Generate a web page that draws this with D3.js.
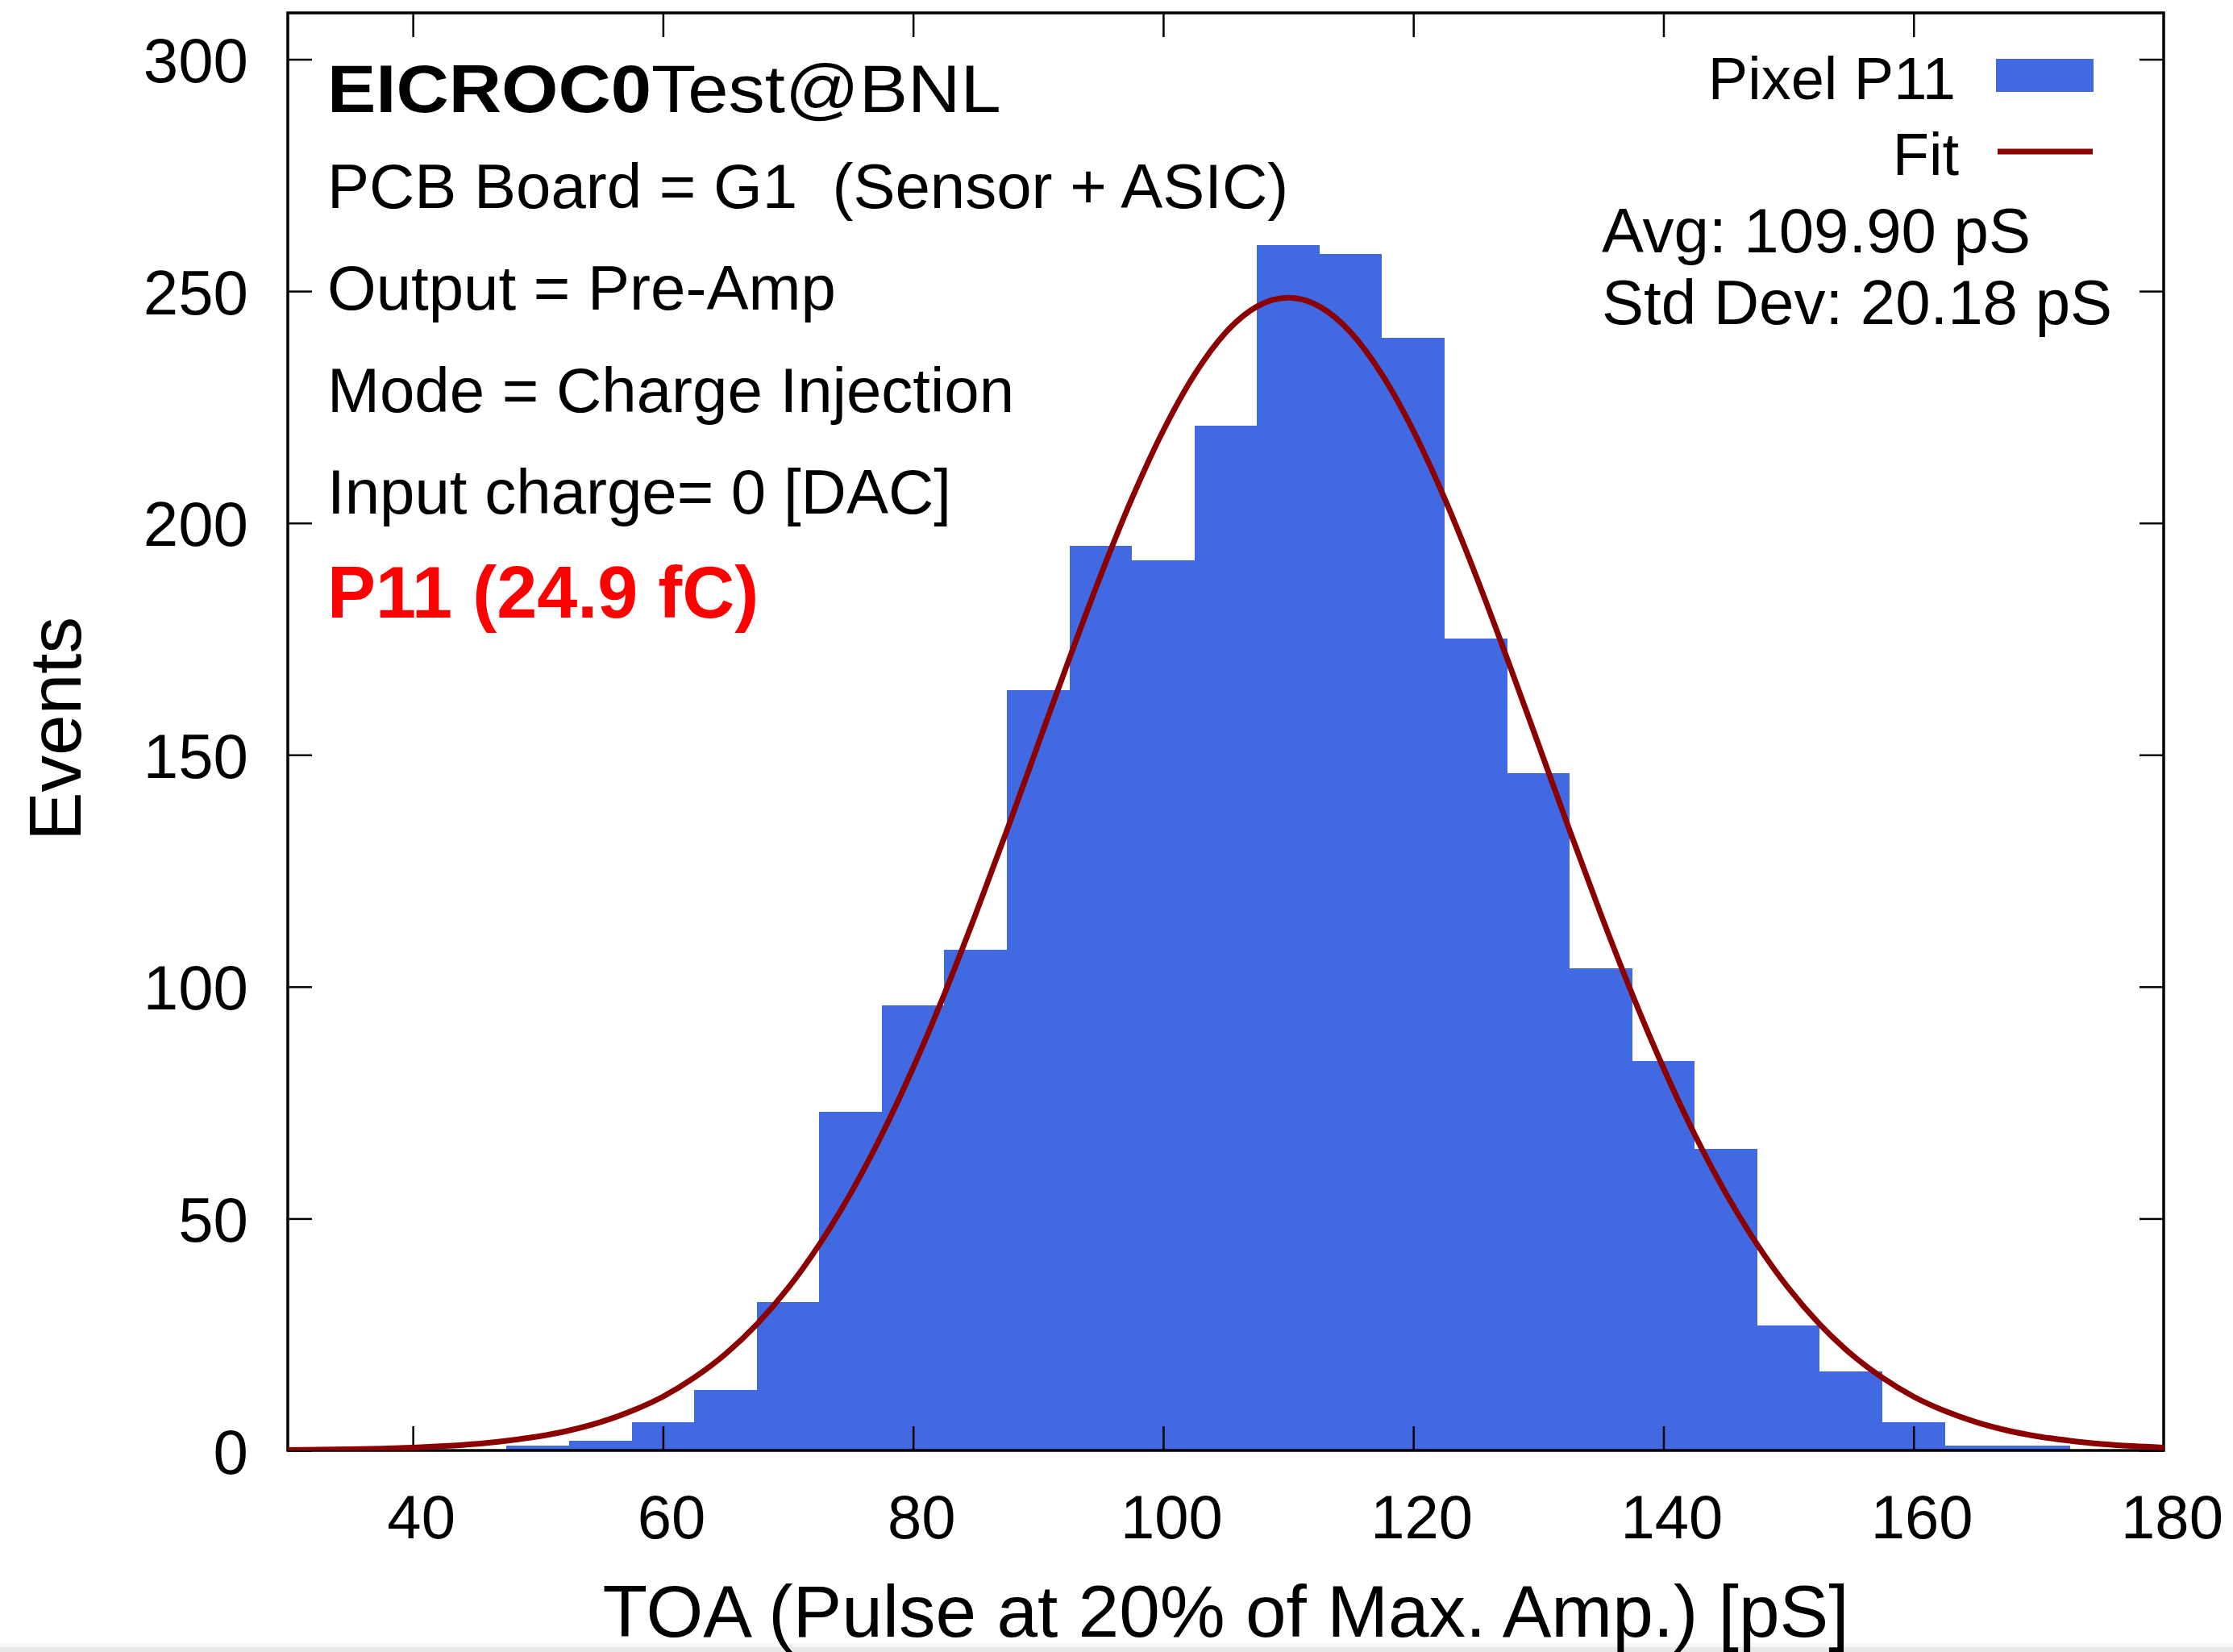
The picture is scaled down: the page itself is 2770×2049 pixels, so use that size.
<!DOCTYPE html>
<html><head><meta charset="utf-8">
<script src="https://cdn.jsdelivr.net/npm/d3@7"></script>
<style>
body{margin:0;background:#fff}
svg{display:block}
text{font-family:"Liberation Sans",Arial,Helvetica,sans-serif;fill:#000}
</style>
</head><body>
<svg id="chart" width="2770" height="2049"></svg>
<script>
// ---- data ----
const binStarts = [47.5,52.5,57.5,62.5,67.5,72.5,77.5,82.5,87.5,92.5,97.5,102.5,107.5,112.5,117.5,122.5,127.5,132.5,137.5,142.5,147.5,152.5,157.5,162.5,167.5];
const binWidth = 5;
const counts = [1,2,6,13,32,73,96,108,164,195,192,221,260,258,240,175,146,104,84,65,27,17,6,1,1];
const fitX = [30,32.5,35,37.5,40,42.5,45,47.5,50,52.5,55,57.5,60,62.5,65,67.5,70,72.5,75,77.5,80,82.5,85,87.5,90,92.5,95,97.5,100,102.5,105,107.5,110,112.5,115,117.5,120,122.5,125,127.5,130,132.5,135,137.5,140,142.5,145,147.5,150,152.5,155,157.5,160,162.5,165,167.5,170,172.5,175,177.5,180];
const fitY = [0.1,0.16,0.25,0.40,0.61,0.94,1.4,2.1,3.0,4.3,6.1,8.5,11.6,15.7,20.8,27.2,35.0,44.4,55.4,68.1,82.5,98.4,115.6,133.7,152.3,170.8,188.7,205.3,219.9,232.0,241.1,246.7,248.6,246.7,241.1,232.0,219.9,205.3,188.7,170.8,152.3,133.7,115.6,98.4,82.5,68.1,55.4,44.4,35.0,27.2,20.8,15.7,11.6,8.5,6.1,4.3,3.0,2.1,1.4,0.94,0.61];
const xTicks = [40,60,80,100,120,140,160,180];
const yTicks = [0,50,100,150,200,250,300];
const xDomain = [30,180];
const yDomain = [0,310];
const infoLines = ["PCB Board = G1  (Sensor + ASIC)","Output = Pre-Amp","Mode = Charge Injection","Input charge= 0 [DAC]"];
const highlight = "P11 (24.9 fC)";
const legendLabels = ["Pixel P11","Fit"];
const stats = ["Avg: 109.90 pS","Std Dev: 20.18 pS"];

// ---- layout ----
const L = 357, R = 2684, T = 16, B = 1799;
const BLUE = "#4169E1", FITC = "#8B0000";
const svg = d3.select("#chart");
const x = d3.scaleLinear().domain(xDomain).range([L,R]);
const y = d3.scaleLinear().domain(yDomain).range([B,T]);

svg.append("rect").attr("x",0).attr("y",0).attr("width",2770).attr("height",2049).attr("fill","#fff");
svg.append("rect").attr("x",0).attr("y",2038).attr("width",2770).attr("height",5).attr("fill","#f7f7f7");
svg.append("rect").attr("x",0).attr("y",2043).attr("width",2770).attr("height",6).attr("fill","#e9e9e9");

svg.append("clipPath").attr("id","clip").append("rect")
  .attr("x",L).attr("y",T).attr("width",R-L).attr("height",B-T);

// bars
svg.append("g").selectAll("rect").data(binStarts).join("rect")
  .attr("x",d=>x(d)).attr("width",d=>x(d+binWidth)-x(d))
  .attr("y",(d,i)=>y(counts[i])).attr("height",(d,i)=>y(0)-y(counts[i]))
  .attr("fill",BLUE).attr("shape-rendering","crispEdges");

// axes ticks (inward) on all sides
const tickLen = 30;
const gB = svg.append("g").attr("transform",`translate(0,${B})`)
  .call(d3.axisBottom(x).tickValues(xTicks.filter(v=>v<180)).tickSize(-tickLen).tickFormat(""));
const gT = svg.append("g").attr("transform",`translate(0,${T})`)
  .call(d3.axisTop(x).tickValues(xTicks.filter(v=>v<180)).tickSize(-tickLen).tickFormat(""));
const gL = svg.append("g").attr("transform",`translate(${L},0)`)
  .call(d3.axisLeft(y).tickValues(yTicks).tickSize(-tickLen).tickFormat(""));
const gR = svg.append("g").attr("transform",`translate(${R},0)`)
  .call(d3.axisRight(y).tickValues(yTicks).tickSize(-tickLen).tickFormat(""));
[gB,gT,gL,gR].forEach(g=>{g.select(".domain").remove();g.selectAll("line").attr("stroke","#000").attr("stroke-width",2.5);});

// tick labels through axes
const gXL = svg.append("g").attr("transform",`translate(10,${B})`)
  .call(d3.axisBottom(x).tickValues(xTicks).tickSize(0).tickFormat(d3.format("d")));
gXL.select(".domain").remove();
gXL.selectAll("text").attr("y",109).attr("dy",null).attr("font-size",76)
  .style("font-family",'"Liberation Sans",Arial,sans-serif').attr("fill","#000");
const gYL = svg.append("g").attr("transform",`translate(${L},0)`)
  .call(d3.axisLeft(y).tickValues(yTicks).tickSize(0).tickFormat(d3.format("d")));
gYL.select(".domain").remove();
gYL.selectAll("text").attr("x",-49).attr("dy","0.36em").attr("font-size",78)
  .style("font-family",'"Liberation Sans",Arial,sans-serif').attr("fill","#000");

// frame
svg.append("rect").attr("x",L).attr("y",T).attr("width",R-L).attr("height",B-T)
  .attr("fill","none").attr("stroke","#000").attr("stroke-width",3.5);

// fit curve
const line = d3.line().x(d=>x(d[0])).y(d=>y(d[1])).curve(d3.curveMonotoneX);
svg.append("path").datum(fitX.map((v,i)=>[v,fitY[i]]))
  .attr("d",line).attr("fill","none").attr("stroke",FITC).attr("stroke-width",7)
  .attr("stroke-linejoin","round").attr("clip-path","url(#clip)");

// axis titles
svg.append("text").attr("x",(L+R)/2).attr("y",2030).attr("text-anchor","middle")
  .attr("font-size",91).text("TOA (Pulse at 20% of Max. Amp.) [pS]");
svg.append("text").attr("transform","translate(100,904) rotate(-90)").attr("text-anchor","middle")
  .attr("font-size",91).text("Events");

// info text
const title = svg.append("text").attr("transform","translate(406,139) scale(1.09,1)").attr("font-size",83);
title.append("tspan").attr("font-weight","bold").text("EICROC0");
title.append("tspan").text("Test@BNL");
const lineY = [258,384,511,637];
svg.append("g").selectAll("text").data(infoLines).join("text")
  .attr("x",406).attr("y",(d,i)=>lineY[i]).attr("font-size",78)
  .style("white-space","pre").text(d=>d);
svg.append("text").attr("x",406).attr("y",766).attr("font-size",90).attr("font-weight","bold")
  .attr("fill","#FF0000").style("fill","#FF0000").text(highlight);

// legend
svg.append("text").attr("x",2426).attr("y",123).attr("text-anchor","end").attr("font-size",74).text(legendLabels[0]);
svg.append("rect").attr("x",2476).attr("y",73).attr("width",121).attr("height",41).attr("fill",BLUE);
svg.append("text").attr("x",2430).attr("y",217).attr("text-anchor","end").attr("font-size",74).text(legendLabels[1]);
svg.append("line").attr("x1",2478).attr("x2",2596).attr("y1",188).attr("y2",188)
  .attr("stroke",FITC).attr("stroke-width",7);
svg.append("g").selectAll("text").data(stats).join("text")
  .attr("x",1987).attr("y",(d,i)=>[313,402][i]).attr("font-size",78).text(d=>d);
</script>
</body></html>
